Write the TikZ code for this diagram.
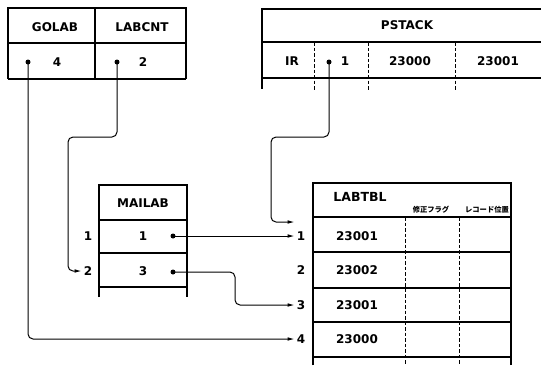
\documentclass[tikz,border=0pt]{standalone}
\usepackage{fontspec}
\setmainfont{DejaVu Sans}
\newfontfamily\jpfont{Noto Sans CJK JP}
\usetikzlibrary{arrows.meta}
\begin{document}
\begin{tikzpicture}[x=1pt,y=-1pt,
  box/.style={line width=1.3pt},
  heavy/.style={line width=2pt},
  dsh/.style={line width=1pt, dash pattern=on 3.5pt off 2pt},
  lbl/.style={font=\bfseries\fontsize{12}{14}\selectfont, inner sep=0pt},
  ttl/.style={font=\bfseries\fontsize{12.5}{14}\selectfont, inner sep=0pt},
  jp/.style={font=\jpfont\bfseries\fontsize{7.3}{8}\selectfont, inner sep=0pt},
  conn/.style={line width=1pt, rounded corners=5pt, shorten >=2pt, -{Latex[length=7pt,width=3.6pt]}},
  dotc/.style={circle, fill, inner sep=0pt, minimum size=5pt}]
\useasboundingbox (0,0) rectangle (541,365);
% GOLAB / LABCNT
\draw[box] (8,79) -- (8,8) -- (186,8) -- (186,79);
\draw[box] (8,43) -- (186,43);
\draw[heavy] (95,8) -- (95,79);
\draw[heavy] (8,79) -- (186,79);
\node[lbl] (golab) at (55,27) {GOLAB};
\node[lbl] (labcnt) at (142,27) {LABCNT};
\node[lbl] (gval) at (57,62) {4};
\node[lbl] (cval) at (143,62) {2};
\node[dotc] (gdot) at (28,62) {};
\node[dotc] (cdot) at (117,62) {};
% PSTACK
\draw[box] (541,9) -- (262,9) -- (262,89);
\draw[box] (262,42) -- (541,42);
\draw[heavy] (262,78) -- (541,78);
\draw[dsh] (314,42) -- (314,90);
\draw[dsh] (368,42) -- (368,90);
\draw[dsh] (455,42) -- (455,90);
\node[lbl] (pstack) at (407,25) {PSTACK};
\node[lbl] (pir) at (292,61) {IR};
\node[dotc] (pdot) at (329,62) {};
\node[lbl] (pone) at (345,61) {1};
\node[lbl] (p23000) at (410,61) {23000};
\node[lbl] (p23001) at (498,61) {23001};
% MAILAB
\draw[box] (99,297) -- (99,185) -- (187,185) -- (187,297);
\draw[box] (99,220) -- (187,220);
\draw[box] (99,253) -- (187,253);
\draw[heavy] (99,287) -- (187,287);
\node[lbl] (mailab) at (143,203) {MAILAB};
\node[lbl] (mv1) at (143,236) {1};
\node[lbl] (mv2) at (143,271) {3};
\node[dotc] (md1) at (173,236) {};
\node[dotc] (md2) at (173,272) {};
\node[lbl] (m1) at (88,236) {1};
\node[lbl] (m2) at (88,271) {2};
% LABTBL
\draw[box] (313,365) -- (313,183) -- (511,183) -- (511,365);
\draw[heavy] (313,365) -- (313,217);
\draw[heavy] (511,365) -- (511,217);
\draw[box] (313,217) -- (511,217);
\draw[box] (313,252) -- (511,252);
\draw[box] (313,288) -- (511,288);
\draw[box] (313,322) -- (511,322);
\draw[heavy] (313,357) -- (511,357);
\draw[dsh] (405,217) -- (405,365);
\draw[dsh] (459,217) -- (459,365);
\node[ttl] (labtbl) at (360,197) {LABTBL};
\node[jp] (jp1) at (431,210) {修正フラグ};
\node[jp] (jp2) at (487,210) {レコード位置};
\node[lbl] (t1) at (357,236) {23001};
\node[lbl] (t2) at (357,270) {23002};
\node[lbl] (t3) at (357,305) {23001};
\node[lbl] (t4) at (357,339) {23000};
\node[lbl] (l1) at (301,236) {1};
\node[lbl] (l2) at (301,270) {2};
\node[lbl] (l3) at (301,305) {3};
\node[lbl] (l4) at (301,339) {4};
% connectors
\draw[conn] (gdot.center) |- (l4.west);
\draw[conn] (cdot.center) |- (68,137) |- (m2.west);
\draw[conn] (pdot.center) |- (271,137) |- ([yshift=14pt]l1.west);
\draw[conn] (md1.center) -- (l1.west);
\draw[conn] (md2.center) -| (235,290) |- (l3.west);
\end{tikzpicture}
\end{document}
